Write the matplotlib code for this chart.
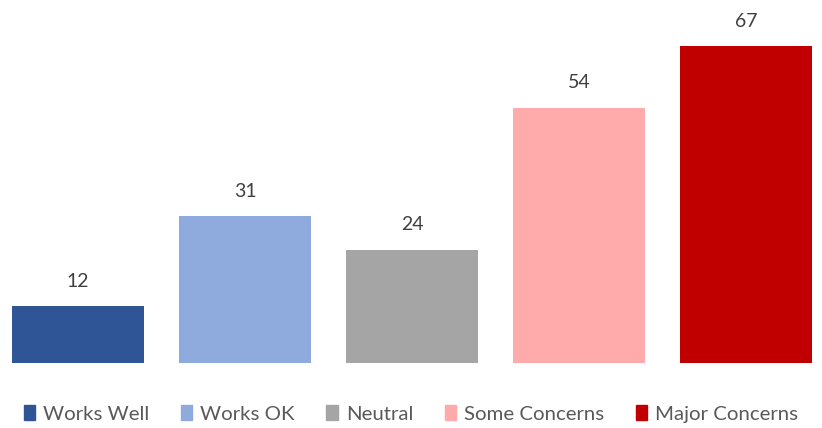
import matplotlib
matplotlib.use('Agg')
import matplotlib.pyplot as plt
from matplotlib.patches import Patch

plt.rcParams['font.family'] = ['Lato', 'DejaVu Sans']

categories = ['Works Well', 'Works OK', 'Neutral', 'Some Concerns', 'Major Concerns']
values = [12, 31, 24, 54, 67]
colors = ['#2F5597', '#8FAADC', '#A5A5A5', '#FFABAB', '#C00000']

fig = plt.figure(figsize=(8.22, 4.28), dpi=100)
ax = fig.add_axes([0, 65/428, 1, 331/428])

x = range(len(categories))
bars = ax.bar(x, values, width=0.79, color=colors)
for xi, v in zip(x, values):
    ax.annotate(str(v), (xi, v), xytext=(0, 12), textcoords='offset points',
                ha='center', va='bottom', fontsize=14, color='#404040')

ax.set_xlim(-78/167, (822-78)/167)
ax.set_ylim(0, 70)
ax.axis('off')

handles = [Patch(color=c, label=l) for c, l in zip(colors, categories)]
leg = fig.legend(handles=handles, loc='center', bbox_to_anchor=(0.5, 1 - 414/428),
                 ncol=5, frameon=False, fontsize=14.7, handlelength=0.55, handleheight=0.75,
                 handletextpad=0.4, columnspacing=1.55, labelcolor='#595959')

fig.savefig('out.png', dpi=100)
